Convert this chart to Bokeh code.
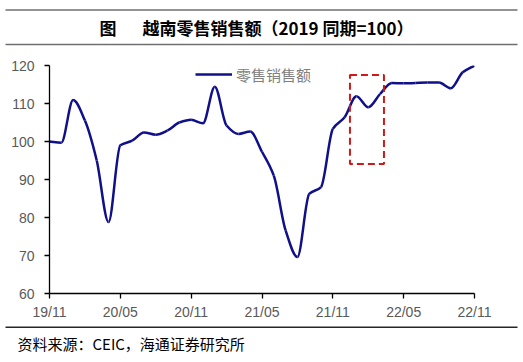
import numpy as np
from bokeh.plotting import figure
from bokeh.layouts import column
from bokeh.models import (ColumnDataSource, BoxAnnotation, Label, Legend, LegendItem,
                          FixedTicker, Range1d)
from bokeh.embed import file_html
from bokeh.resources import INLINE

# ---------------- data ----------------
tick_labels = ["19/11", "20/05", "20/11", "21/05", "21/11", "22/05", "22/11"]
retail_sales = [100.0, 99.7, 110.9, 105.5, 95.0, 78.8, 99.0, 100.2, 102.4, 101.8,
                102.9, 105.0, 105.7, 104.8, 114.4, 104.2, 102.0, 102.6, 97.3, 91.0,
                76.6, 69.6, 86.2, 88.0, 103.3, 106.4, 111.9, 109.0, 112.5, 115.4,
                115.3, 115.4, 115.5, 115.5, 114.0, 118.2, 120.0]
months = list(range(len(retail_sales)))          # month index from 19/11
highlight_months = [25.45, 28.33]                 # dashed box (month index)
highlight_values = [94.1, 117.5]
series_name = "零售销售额"
title_prefix = "图"
title_text = "越南零售销售额（2019 同期=100）"
source_note = "资料来源：CEIC，海通证券研究所"

W = 523
TOP_H, MAIN_H, BOT_H = 50, 272, 40

# ---------------- smoothed curve (monotone cubic -> Bezier segments) ----------------
x = np.array(months, dtype=float)
y = np.array(retail_sales, dtype=float)
h = np.diff(x)
d = np.diff(y) / h
m = np.zeros_like(y)
m[0], m[-1] = d[0], d[-1]
for k in range(1, len(y) - 1):
    if d[k - 1] * d[k] > 0:
        m[k] = 2.0 / (1.0 / d[k - 1] + 1.0 / d[k])
x0, y0 = x[:-1], y[:-1]
x1, y1 = x[1:], y[1:]
cx0 = x0 + h / 3.0
cy0 = y0 + m[:-1] * h / 3.0
cx1 = x1 - h / 3.0
cy1 = y1 - m[1:] * h / 3.0
src = ColumnDataSource(dict(x0=x0, y0=y0, x1=x1, y1=y1,
                            cx0=cx0, cy0=cy0, cx1=cx1, cy1=cy1))


def deco_figure(h, y_top):
    f = figure(width=W, height=h, output_backend="svg", toolbar_location=None,
               x_range=Range1d(0, W), y_range=Range1d(y_top + h, y_top),
               x_axis_type=None, y_axis_type=None, min_border=0,
               min_border_left=0, min_border_right=0,
               min_border_top=0, min_border_bottom=0)
    f.outline_line_color = None
    f.background_fill_color = "white"
    f.border_fill_color = "white"
    return f


def rule(f, yc, thick, color):
    f.add_layout(BoxAnnotation(left=5, right=517, top=yc - thick / 2, bottom=yc + thick / 2,
                               fill_color=color, fill_alpha=1, line_color=None))


# ---------------- top: title ----------------
top = deco_figure(TOP_H, 0)
rule(top, 9.5, 1.6, "#6f6f6f")
rule(top, 44.0, 1.6, "#6f6f6f")
top.add_layout(Label(x=99, y=27, text=title_prefix,
                     text_font="Noto Sans CJK SC", text_font_style="bold",
                     text_font_size="17px", text_baseline="middle", text_align="left",
                     text_color="black"))
top.add_layout(Label(x=142, y=27, text=title_text,
                     text_font="Noto Sans CJK SC", text_font_style="bold",
                     text_font_size="17px", text_baseline="middle", text_align="left",
                     text_color="black"))

# ---------------- main chart ----------------
p = figure(width=W, height=MAIN_H, output_backend="svg", toolbar_location=None,
           x_range=Range1d(0, len(months) - 1), y_range=Range1d(60, 120),
           min_border_left=49, min_border_right=49,
           min_border_top=15, min_border_bottom=29)
p.outline_line_color = None
p.xgrid.visible = False
p.ygrid.visible = False
p.background_fill_color = "white"
p.border_fill_color = "white"

r = p.bezier(x0="x0", y0="y0", x1="x1", y1="y1", cx0="cx0", cy0="cy0",
             cx1="cx1", cy1="cy1", source=src, line_color="#10108a", line_width=2.5)

p.xaxis.ticker = FixedTicker(ticks=[i * 6 for i in range(len(tick_labels))])
p.xaxis.major_label_overrides = {i * 6: t for i, t in enumerate(tick_labels)}
p.yaxis.ticker = FixedTicker(ticks=list(range(60, 121, 10)))
for ax in (p.xaxis, p.yaxis):
    ax.axis_line_color = "black"
    ax.axis_line_width = 1.3
    ax.major_tick_line_color = "black"
    ax.major_tick_line_width = 1.3
    ax.major_tick_out = 5
    ax.major_tick_in = 0
    ax.minor_tick_out = 0
    ax.minor_tick_in = 0
    ax.major_label_text_font = "Liberation Sans"
    ax.major_label_text_font_size = "14px"
    ax.major_label_text_color = "#595959"
p.xaxis.major_label_standoff = 5
p.yaxis.major_label_standoff = 10

p.add_layout(BoxAnnotation(left=highlight_months[0], right=highlight_months[1],
                           bottom=highlight_values[0], top=highlight_values[1],
                           fill_alpha=0, fill_color=None, line_color="#d01818",
                           line_alpha=1, line_width=2, line_dash="7 4"))

legend = Legend(items=[LegendItem(label=series_name, renderers=[r])],
                location=(146, 207), glyph_width=37, glyph_height=24,
                label_height=24, label_width=90, label_standoff=4, padding=0,
                spacing=0, margin=0,
                border_line_color=None, background_fill_alpha=0,
                label_text_font="Noto Sans CJK SC", label_text_font_size="15px",
                label_text_color="#808080")
p.add_layout(legend)

# ---------------- bottom: source ----------------
bot = deco_figure(BOT_H, TOP_H + MAIN_H)
rule(bot, 326.8, 1.6, "#262626")
bot.add_layout(Label(x=17, y=342.5, text=source_note,
                     text_font="Noto Sans CJK SC", text_font_size="15px",
                     text_baseline="middle", text_align="left", text_color="black"))

layout = column(column(top), p, column(bot), spacing=0)
open("out.html", "w").write(file_html(layout, INLINE))
